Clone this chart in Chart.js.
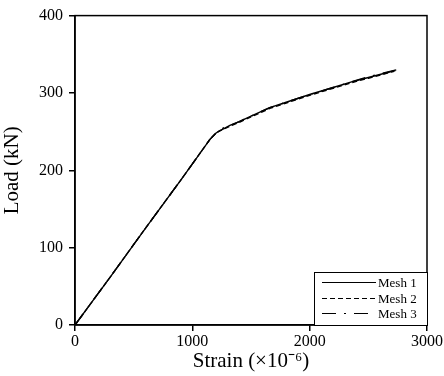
<!DOCTYPE html>
<html><head><meta charset="utf-8">
<script src="https://cdn.jsdelivr.net/npm/chart.js@4/dist/chart.umd.min.js"></script>
<style>html,body{margin:0;padding:0;background:#fff}#wrap{width:444px;height:376px}</style>
</head><body><div id="wrap"><canvas id="c" width="444" height="376"></canvas></div>
<script>
const seriesNames = ["Mesh 1", "Mesh 2", "Mesh 3"];
const mesh1Strain = [0, 300, 600, 900, 1150, 1200, 1230, 1270, 1320, 1400, 1500, 1660, 1800, 2000, 2200, 2350, 2500, 2730];
const mesh1Load   = [0, 62, 125, 187, 240, 248, 251, 254, 258, 263, 270, 281, 288, 298, 307, 314, 320, 329];
const mesh2Strain = [0, 300, 600, 900, 1150, 1200, 1235, 1275, 1320, 1400, 1500, 1660, 1800, 2000, 2200, 2350, 2500, 2720];
const mesh2Load   = [0, 62, 125, 187, 240, 248, 251, 254, 257, 262, 269, 280, 287, 297, 306, 313, 319, 328];
const mesh3Strain = [0, 300, 600, 900, 1150, 1200, 1230, 1270, 1320, 1400, 1500, 1660, 1800, 2000, 2200, 2350, 2500, 2740];
const mesh3Load   = [0, 62, 125, 187, 240, 248, 252, 255, 258, 263, 270, 281, 288, 298, 307, 314, 321, 330];
const xTicks = [0, 1000, 2000, 3000];
const yTicks = [0, 100, 200, 300, 400];

const toPts = (xs, ys) => xs.map((x, i) => ({x: x, y: ys[i]}));
const dashes = [[], [5, 3], [14, 8, 2, 8]];
const FONT = "'Liberation Serif', 'Times New Roman', serif";

const frame = {
  id: 'frame',
  afterDraw(chart) {
    const {ctx, chartArea: a} = chart;
    ctx.save();
    ctx.strokeStyle = '#000';
    ctx.lineWidth = 1.5;
    ctx.strokeRect(a.left, a.top, a.right - a.left, a.bottom - a.top);
    // legend box
    const bw = 113, bh = 53;
    const bx = Math.round(a.right - bw), by = Math.round(a.bottom - bh);
    ctx.fillStyle = '#fff';
    ctx.fillRect(bx, by, bw, bh);
    ctx.lineWidth = 1;
    ctx.strokeRect(bx + 0.5, by + 0.5, bw, bh);
    ctx.font = '13px ' + FONT;
    ctx.textBaseline = 'middle';
    chart.data.datasets.forEach((ds, i) => {
      const yy = Math.round(by + 10 + i * 15.5) + 0.5;
      ctx.beginPath();
      ctx.setLineDash(ds.borderDash || []);
      ctx.lineWidth = 1;
      ctx.strokeStyle = '#000';
      ctx.moveTo(bx + 8, yy);
      ctx.lineTo(bx + 62, yy);
      ctx.stroke();
      ctx.setLineDash([]);
      ctx.fillStyle = '#000';
      ctx.fillText(ds.label, bx + 64, yy + 1);
    });
    ctx.restore();
  }
};

new Chart(document.getElementById('c'), {
  type: 'scatter',
  data: {
    datasets: seriesNames.map((n, i) => ({
      label: n,
      data: toPts([mesh1Strain, mesh2Strain, mesh3Strain][i], [mesh1Load, mesh2Load, mesh3Load][i]),
      showLine: true,
      borderColor: '#000',
      borderWidth: 1.4,
      borderDash: dashes[i],
      pointRadius: 0,
      tension: 0,
      fill: false
    }))
  },
  options: {
    responsive: false,
    animation: false,
    layout: {padding: {top: 14, right: 17, left: 0, bottom: 0}},
    plugins: {legend: {display: false}, tooltip: {enabled: false}},
    scales: {
      x: {
        type: 'linear', min: 0, max: 3000,
        afterBuildTicks: s => { s.ticks = xTicks.map(v => ({value: v})); },
        afterFit: s => { s.height = 51; },
        grid: {drawOnChartArea: false, color: '#000', tickLength: 6, lineWidth: 1.5},
        border: {color: '#000', width: 1.5},
        ticks: {color: '#000', font: {family: FONT, size: 16}, padding: 1, maxRotation: 0, callback: v => String(v)},
        title: {display: true, text: 'Strain (×10⁻⁶)', color: '#000', font: {family: FONT, size: 21}, padding: {top: -3, bottom: 2}}
      },
      y: {
        type: 'linear', min: 0, max: 400,
        afterBuildTicks: s => { s.ticks = yTicks.map(v => ({value: v})); },
        afterFit: s => { s.width = 75; },
        grid: {drawOnChartArea: false, color: '#000', tickLength: 6, lineWidth: 1.5},
        border: {color: '#000', width: 1.5},
        ticks: {color: '#000', font: {family: FONT, size: 16}, padding: 6, callback: v => String(v)},
        title: {display: true, text: 'Load (kN)', color: '#000', font: {family: FONT, size: 21}, padding: {top: 0, bottom: 6}}
      }
    }
  },
  plugins: [frame]
});
</script>
</body></html>
